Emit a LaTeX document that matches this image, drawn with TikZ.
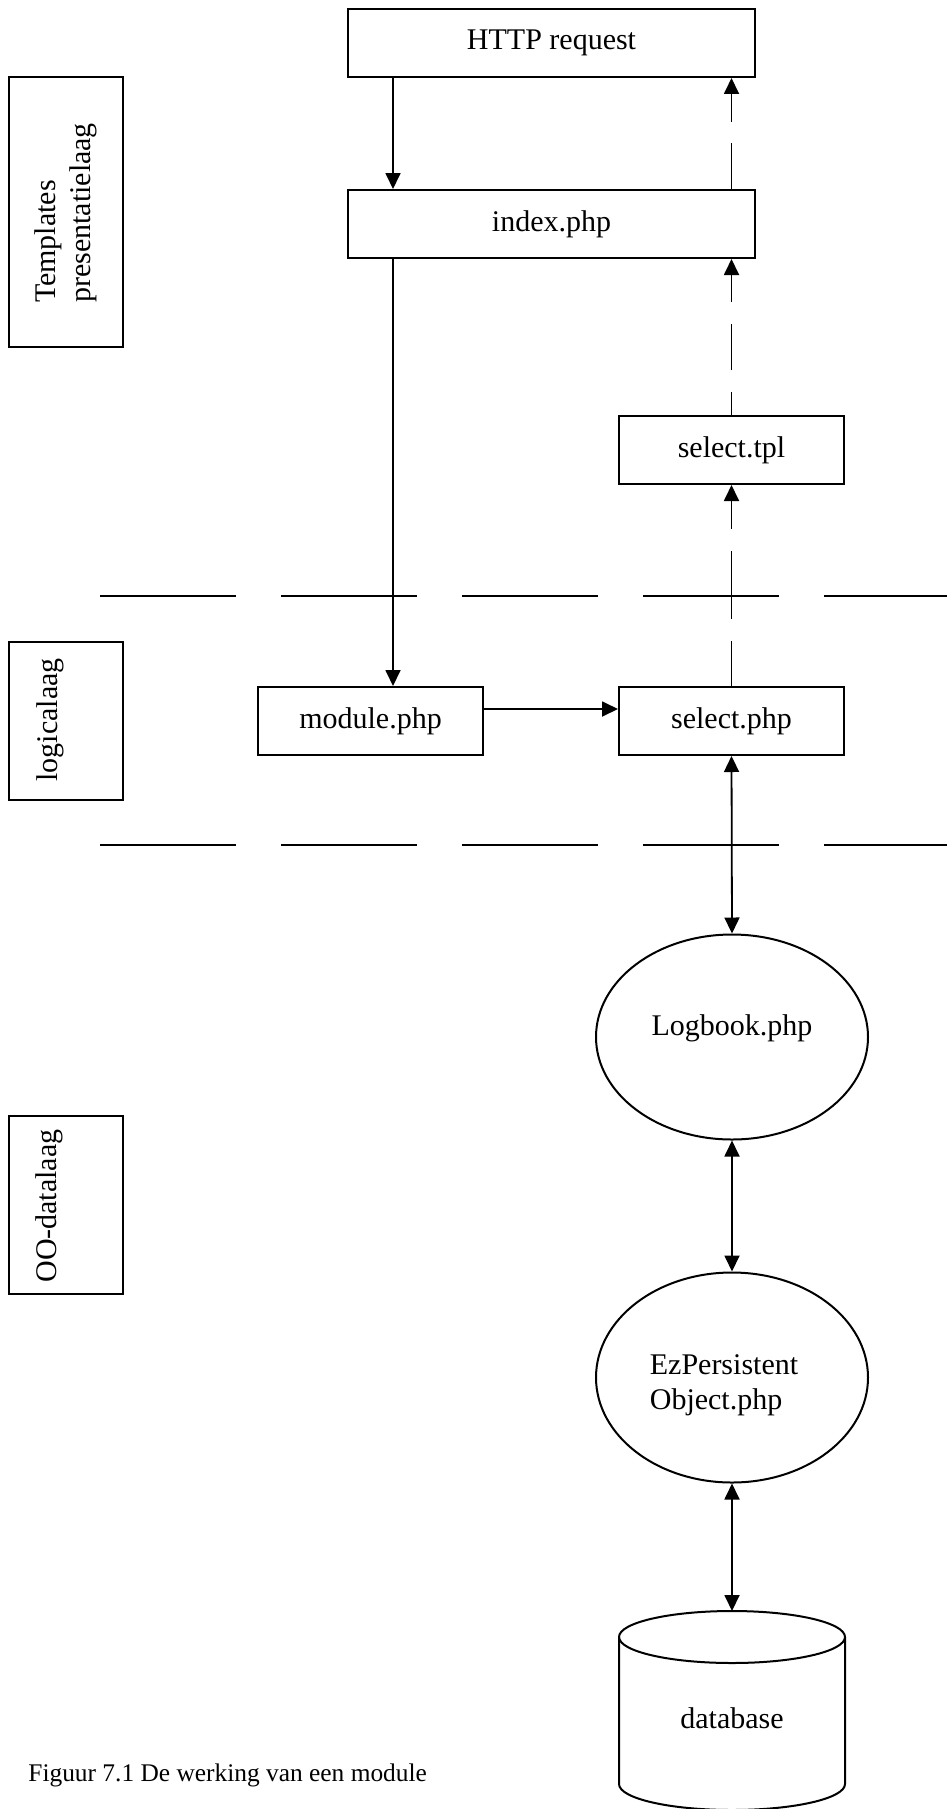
\documentclass[tikz,border=0pt]{standalone}
\usepackage{fontspec}
\setmainfont{Liberation Serif}
\usetikzlibrary{arrows.meta,shapes.geometric}
\begin{document}
\begin{tikzpicture}[x=0.5pt,y=-0.5pt,
  txt/.style={font=\fontsize{15}{17.5}\selectfont},
  box/.style={draw,line width=1pt,inner sep=0pt,txt},
  widebox/.style={box,minimum width=203.5pt,minimum height=34pt},
  smallbox/.style={box,minimum width=112.5pt,minimum height=34pt},
  layerbox/.style={draw,line width=1pt,inner sep=0pt,minimum width=57pt},
  layertext/.style={txt,rotate=90,align=left,inner sep=0pt},
  ell/.style={draw,ellipse,line width=1pt,inner sep=0pt,txt,minimum width=136pt},
  arr/.style={line width=0.9pt,-{Triangle[length=8pt,width=7.5pt]}},
  dbl/.style={line width=0.9pt,{Triangle[length=8pt,width=7.5pt]}-{Triangle[length=8pt,width=7.5pt]}},
  sepline/.style={line width=1pt,dash pattern=on 68pt off 22.5pt}
]
\useasboundingbox (0,0) rectangle (947,1809);

% layer boxes
\node[layerbox,minimum height=135pt] (lay1) at (66,212) {};
\node[layertext] (lay1t) at (66,213) {Templates\\presentatielaag};
\node[layerbox,minimum height=79pt] (lay2) at (66,721) {};
\node[layertext] (lay2t) at (50,720) {logicalaag};
\node[layerbox,minimum height=89pt] (lay3) at (66,1205) {};
\node[layertext] (lay3t) at (49,1206) {OO-datalaag};

% separators
\coordinate (s1a) at (100,596); \coordinate (s1b) at (960,596);
\coordinate (s2a) at (100,845); \coordinate (s2b) at (960,845);
\draw[sepline] (s1a) -- (s1b);
\draw[sepline] (s2a) -- (s2b);

% boxes
\node[widebox] (http) at (551.5,43) {HTTP request};
\node[widebox] (index) at (551.5,224) {index.php};
\node[smallbox] (tpl) at (731.5,450) {select.tpl};
\node[smallbox] (module) at (370.5,721) {module.php};
\node[smallbox] (select) at (731.5,721) {select.php};

% ellipses
\node[ell,minimum height=102.5pt,text depth=12.2pt] (logbook) at (732,1037) {Logbook.php};
\node[ell,minimum height=105pt,label={[txt,align=left,inner sep=0pt,xshift=-4pt,yshift=-4pt]center:EzPersistent\\Object.php}] (ez) at (732,1377.5) {};

% database cylinder
\coordinate (dbtop) at (732,1611);
\draw[line width=1pt] (619,1637) arc[start angle=180,end angle=-180,x radius=113,y radius=-26];
\draw[line width=1pt] (619,1637) -- (619,1784) arc[start angle=180,end angle=360,x radius=113,y radius=-26] -- (845,1637);
\node[txt,anchor=base] (db) at (732,1728) {database};

% helper coordinates
\coordinate (v) at (393,0);
\coordinate (h) at (0,709);

% arrows
\draw[arr] (http.south -| v) -- (index.north -| v);
\draw[arr] (index.south -| v) -- (module.north -| v);
\draw[arr] (module.east |- h) -- (select.west |- h);
\draw[arr,dash pattern=on 22.5pt off 11pt on 34pt off 11pt] (select.north) -- (tpl.south);
\draw[arr,dash pattern=on 23pt off 11pt,dash phase=11.5pt] (tpl.north) -- (index.south -| tpl.north);
\draw[arr,dash pattern=on 23pt off 10.5pt] (index.north -| tpl.north) -- (http.south -| tpl.north);
\draw[dbl] (select.south) -- (logbook.north);
\draw[dbl] (logbook.south) -- (ez.north);
\draw[dbl] (ez.south) -- (dbtop);

% caption
\node[anchor=base west,inner sep=0pt,font=\fontsize{12.7}{15}\selectfont] (cap) at (28,1781) {Figuur 7.1 De werking van een module};
\end{tikzpicture}
\end{document}
